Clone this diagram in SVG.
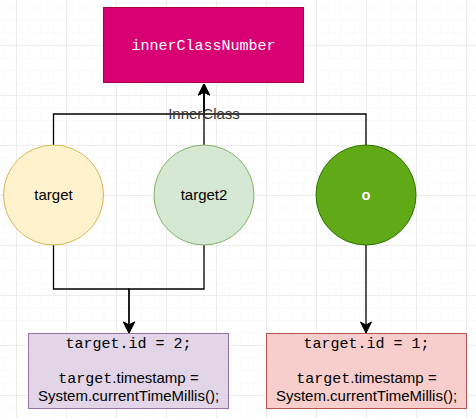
<svg xmlns="http://www.w3.org/2000/svg" width="476" height="418" viewBox="0 0 476 418">
<defs>
<pattern id="minor" x="3.5" y="-5" width="12.5" height="12.5" patternUnits="userSpaceOnUse">
<path d="M0,0 H12.5 M0,0 V12.5" fill="none" stroke="#f3f3f3" stroke-width="1"/>
</pattern>
<pattern id="major" x="16" y="45" width="50" height="50" patternUnits="userSpaceOnUse">
<path d="M0,0 H50 M0,0 V50" fill="none" stroke="#e2e2e2" stroke-width="1"/>
</pattern>
<marker id="arr" markerUnits="userSpaceOnUse" markerWidth="14" markerHeight="14" viewBox="-12 -7 14 14" refX="0" refY="0" orient="auto">
<path d="M-11,-5.5 L0,0 L-11,5.5 L-8,0 Z" fill="#000" stroke="#000" stroke-width="1"/>
</marker>
<style>
.edge{fill:none;stroke:#000;stroke-width:1.3}
.sans{font-family:"Liberation Sans",Arial,sans-serif;font-size:15px}
.mono{font-family:"Liberation Mono","Courier New",monospace;font-size:15px}
</style>
</defs>
<rect width="476" height="418" fill="#fff"/>
<rect width="476" height="418" fill="url(#minor)"/>
<rect width="476" height="418" fill="url(#major)"/>
<g id="connectors">
<path class="edge" d="M53.5,145 V114 H204 V84" marker-end="url(#arr)"/>
<path class="edge" d="M366,145 V114 H204 V84" marker-end="url(#arr)"/>
<path class="edge" d="M204,145 V84" marker-end="url(#arr)"/>
<path class="edge" d="M53.5,245 V289 H129 V333" marker-end="url(#arr)"/>
<path class="edge" d="M204,245 V289 H129 V333" marker-end="url(#arr)"/>
<path class="edge" d="M366,245 V333" marker-end="url(#arr)"/>
<text class="sans" x="204" y="119" text-anchor="middle" fill="#333">InnerClass</text>
</g>
<g id="innerClassNumber">
<rect x="103.5" y="7.5" width="200" height="75" fill="#d80073" stroke="#a50040"/>
<text class="mono" x="203.5" y="50" text-anchor="middle" fill="#fff">innerClassNumber</text>
</g>
<g id="target">
<circle cx="53.5" cy="195" r="50" fill="#fff2cc" stroke="#d6b656"/>
<text class="sans" x="53.5" y="200" text-anchor="middle" fill="#000">target</text>
</g>
<g id="target2">
<circle cx="204" cy="195" r="50" fill="#d5e8d4" stroke="#82b366"/>
<text class="sans" x="204" y="200" text-anchor="middle" fill="#000">target2</text>
</g>
<g id="o">
<circle cx="366" cy="195" r="50" fill="#60a917" stroke="#2d7600"/>
<text class="mono" x="366" y="200" text-anchor="middle" fill="#fff" font-weight="bold">o</text>
</g>
<g id="box1">
<rect x="28.5" y="333.5" width="200" height="75" fill="#e1d5e7" stroke="#9673a6"/>
<text class="mono" x="128.5" y="348" text-anchor="middle" fill="#000">target.id = 2;</text>
<text x="128.5" y="383" text-anchor="middle" fill="#000"><tspan class="mono">target</tspan><tspan class="sans">.timestamp =</tspan></text>
<text class="sans" x="128.5" y="400.5" text-anchor="middle" fill="#000">System.currentTimeMillis();</text>
</g>
<g id="box2">
<rect x="266.5" y="333.5" width="200" height="75" fill="#f8cecc" stroke="#b85450"/>
<text class="mono" x="366.5" y="348" text-anchor="middle" fill="#000">target.id = 1;</text>
<text x="366.5" y="383" text-anchor="middle" fill="#000"><tspan class="mono">target</tspan><tspan class="sans">.timestamp =</tspan></text>
<text class="sans" x="366.5" y="400.5" text-anchor="middle" fill="#000">System.currentTimeMillis();</text>
</g>
</svg>
